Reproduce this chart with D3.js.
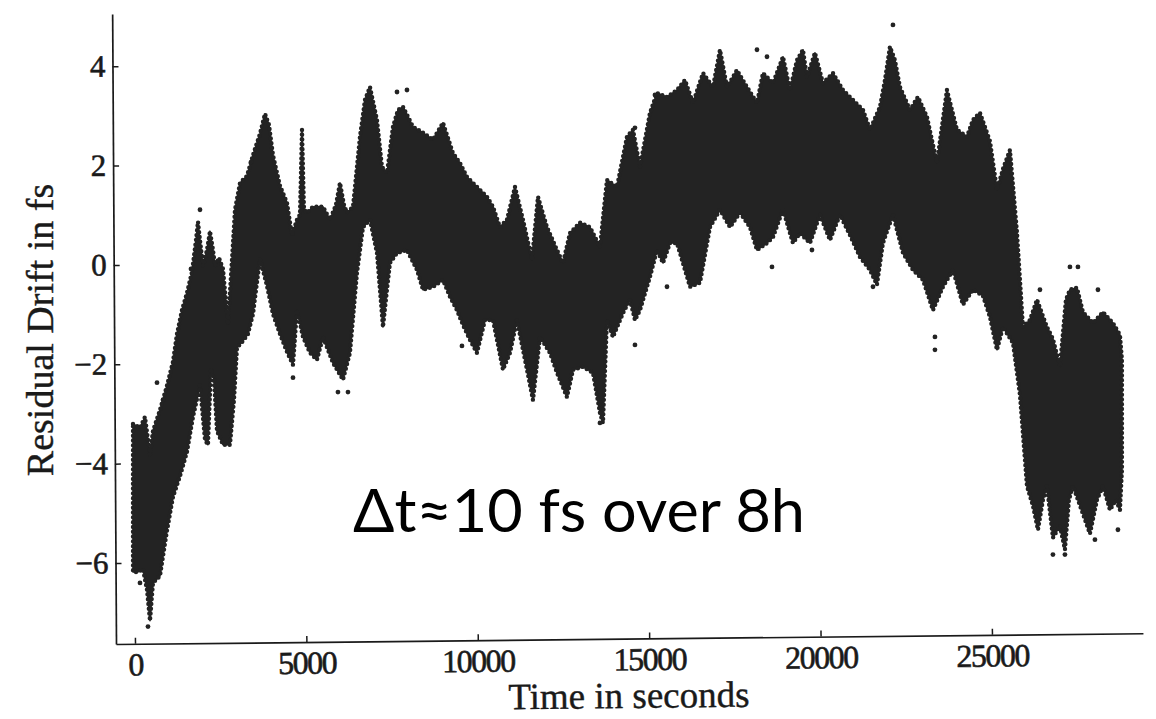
<!DOCTYPE html>
<html><head><meta charset="utf-8">
<script src="https://cdn.jsdelivr.net/npm/d3@7"></script>
<style>html,body{margin:0;padding:0;background:#fff;} svg{display:block;}</style>
</head><body>
<svg id="c" width="1156" height="719"></svg>
<script>
// ---- data (time in s, residual drift in fs) ----
const upperEnvelope = [
[-58,-3.20],[146,-3.28],[292,-3.06],[438,-3.82],[525,-3.34],[729,-2.92],[933,-2.43],[1108,-1.95],
[1225,-1.39],[1371,-0.91],[1517,-0.56],[1663,-0.14],[1779,0.50],[1838,0.87],[1896,0.50],[1984,-0.02],
[2100,0.30],[2188,0.68],[2275,0.30],[2334,-0.02],[2450,0.14],[2567,-0.08],[2713,-1.19],[2829,0.10],
[2917,1.11],[3063,1.65],[3267,1.79],[3442,2.21],[3646,2.64],[3792,3.04],[3909,2.82],[4025,2.21],
[4230,1.59],[4434,1.25],[4580,0.60],[4726,0.91],[4813,1.01],[4872,2.72],[4930,1.11],[5017,1.05],
[5192,1.17],[5484,1.17],[5688,0.91],[5863,1.21],[5980,1.65],[6096,1.21],[6184,1.05],[6359,1.17],
[6563,2.58],[6709,3.32],[6855,3.58],[7059,2.92],[7205,1.97],[7351,1.85],[7526,2.78],[7672,3.12],
[7818,3.18],[8109,2.78],[8401,2.66],[8693,2.52],[8984,2.86],[9276,2.25],[9480,2.05],[9684,1.77],
[9976,1.57],[10268,1.37],[10443,1.17],[10647,0.76],[10851,0.91],[11085,1.57],[11318,0.91],[11580,0.10],
[11756,1.37],[12018,0.76],[12310,0.30],[12485,0.04],[12689,0.64],[12981,0.85],[13272,0.76],[13564,0.36],
[13768,1.71],[14060,1.57],[14352,2.58],[14527,2.72],[14731,1.97],[15023,3.06],[15227,3.46],[15519,3.38],
[15810,3.52],[16044,3.72],[16277,3.26],[16569,3.86],[16861,3.58],[17065,4.33],[17269,3.58],[17560,3.92],
[17852,3.58],[18144,3.26],[18319,3.86],[18611,3.66],[18903,4.19],[19106,3.52],[19311,4.12],[19486,4.33],
[19602,3.78],[19836,4.27],[20069,3.66],[20361,3.86],[20652,3.52],[20944,3.32],[21236,3.12],[21440,2.72],
[21732,3.18],[21878,3.72],[22023,4.39],[22169,4.12],[22315,3.58],[22607,3.12],[22840,3.38],[23103,2.98],
[23394,2.05],[23686,3.52],[23978,2.72],[24270,2.58],[24445,2.92],[24649,3.06],[24941,2.49],[25145,1.51],
[25320,1.93],[25524,2.31],[25728,0.66],[25903,-1.25],[26107,-1.11],[26311,-0.70],[26603,-1.25],[26778,-1.49],
[26982,-2.05],[27157,-0.70],[27274,-0.50],[27478,-0.46],[27653,-0.95],[27945,-1.17],[28237,-0.95],[28528,-1.17],
[28733,-1.41],[28791,-1.91]
];
const lowerEnvelope = [
[-58,-6.18],[88,-6.18],[233,-6.12],[350,-6.54],[438,-7.16],[525,-6.40],[729,-6.26],[933,-5.35],
[1108,-4.67],[1313,-4.25],[1517,-3.76],[1692,-3.06],[1896,-2.43],[2042,-3.52],[2129,-3.62],[2217,-2.09],
[2304,-2.31],[2392,-3.34],[2567,-3.62],[2771,-3.62],[2888,-2.72],[2975,-1.67],[3150,-1.53],[3296,-1.39],
[3442,-0.99],[3646,0.12],[3850,-0.42],[4025,-0.99],[4230,-1.39],[4434,-1.75],[4609,-2.01],[4726,-0.91],
[4901,-1.45],[5105,-1.77],[5309,-1.91],[5484,-1.45],[5775,-1.97],[6067,-2.31],[6271,-1.77],[6476,-0.16],
[6651,0.76],[6855,0.91],[7059,0.24],[7234,-1.25],[7351,-0.50],[7438,0.04],[7643,0.24],[7934,0.30],
[8226,-0.10],[8401,-0.50],[8693,-0.44],[8984,-0.30],[9188,-0.64],[9392,-0.91],[9568,-1.21],[9772,-1.51],
[9976,-1.77],[10209,-1.11],[10443,-1.11],[10735,-2.11],[10939,-1.77],[11143,-1.11],[11435,-2.11],[11610,-2.72],
[11814,-1.45],[12106,-1.77],[12310,-2.17],[12602,-2.66],[12777,-2.11],[13068,-2.05],[13360,-2.17],[13564,-2.98],
[13652,-3.18],[13768,-1.11],[13943,-1.45],[14235,-0.97],[14440,-0.70],[14585,-1.11],[14731,-0.91],[15023,-0.24],
[15227,0.30],[15402,0.04],[15606,0.44],[15810,0.44],[16190,-0.44],[16481,-0.36],[16773,0.76],[17065,1.11],
[17356,0.76],[17648,1.05],[17940,0.76],[18144,0.30],[18436,0.44],[18611,0.56],[18903,1.11],[19194,0.44],
[19398,0.64],[19690,0.44],[19982,1.01],[20273,0.50],[20565,1.01],[20857,0.60],[21148,0.16],[21440,-0.10],
[21644,-0.40],[21819,0.44],[22111,1.01],[22403,0.24],[22694,-0.10],[22986,-0.30],[23278,-0.91],[23570,-0.44],
[23861,-0.10],[24153,-0.80],[24445,-0.50],[24736,-0.62],[24941,-1.05],[25145,-1.71],[25320,-1.25],[25612,-1.57],
[25816,-2.62],[26020,-4.45],[26195,-4.85],[26341,-5.33],[26486,-4.73],[26603,-4.45],[26778,-5.49],[26982,-5.25],
[27128,-5.73],[27245,-4.73],[27361,-4.45],[27653,-5.01],[27857,-5.41],[28062,-4.73],[28237,-4.45],[28441,-4.93],
[28616,-4.73],[28733,-4.93],[28791,-4.12]
];
const outlierPoints = [
[379,-7.28],[146,-6.40],[1896,1.11],[1634,-0.08],[3384,2.07],[7934,3.52],[7643,3.48],[22111,4.83],
[27274,-0.04],[27507,-0.04],[26399,-0.50],[28091,-0.50],[26778,-5.83],[27128,-5.83],[28674,-5.33],
[28003,-5.53],[23336,-1.45],[23336,-1.71],[4609,-2.27],[5921,-2.56],[6213,-2.56],[15519,-0.44],
[18582,-0.04],[9538,-1.63],[14585,-1.61],[13564,-3.18],[21528,-0.44],[642,-2.37],[817,-2.72],
[15169,3.42],[14585,2.76],[18144,4.33],[18436,4.19],[19748,0.30]
];
const xMajorTicks = [0, 5000, 10000, 15000, 20000, 25000];
const xMinorTicks = [1000,2000,3000,4000,6000,7000,8000,9000,11000,12000,13000,14000,16000,17000,18000,19000,21000,22000,23000,24000,26000,27000,28000,29000];
const yMajorTicks = [-6, -4, -2, 0, 2, 4];
const yMinorTicks = [-7.5,-7,-6.5,-5.5,-5,-4.5,-3.5,-3,-2.5,-1.5,-1,-0.5,0.5,1,1.5,2.5,3,3.5,4.5,5];
const xTitle = "Time in seconds";
const yTitle = "Residual Drift in fs";
const note = "Δt≈10 fs over 8h";

// ---- layout ----
const svg = d3.select("#c");
svg.append("rect").attr("width",1156).attr("height",719).attr("fill","#fff");
const x = d3.scaleLinear().domain([-554, 29405]).range([116, 1143]);
const y = d3.scaleLinear().domain([-7.63, 5.05]).range([644, 14]);
const ink = "#1a1a1a";
const dotInk = "#232323";
const serif = "'Liberation Serif', 'Times New Roman', serif";

// data band
const band = upperEnvelope.concat(lowerEnvelope.slice().reverse());
const line = d3.line().x(d => x(d[0])).y(d => y(d[1]));
svg.append("path")
  .attr("d", line(band) + "Z")
  .attr("fill", dotInk)
  .attr("stroke", dotInk)
  .attr("stroke-width", 1.5)
  .attr("stroke-linejoin", "round");
svg.append("path")
  .attr("d", line(band) + "Z")
  .attr("fill", "none")
  .attr("stroke", dotInk)
  .attr("stroke-width", 4.4)
  .attr("stroke-dasharray", "0 4.8")
  .attr("stroke-linecap", "round");
svg.append("g").selectAll("circle").data(outlierPoints).join("circle")
  .attr("cx", d => x(d[0])).attr("cy", d => y(d[1])).attr("r", 2.4).attr("fill", dotInk);

// x axis (slightly tilted like the scan)
const gx = svg.append("g").attr("transform", "translate(0,644) rotate(-0.6,116,0)");
gx.call(d3.axisBottom(x).tickValues(xMinorTicks).tickSize(-3).tickSizeOuter(0).tickFormat(""));
gx.call(d3.axisBottom(x).tickValues(xMajorTicks).tickSize(-6).tickSizeOuter(0).tickPadding(9).tickFormat(d3.format("d")));
gx.selectAll(".domain").attr("stroke", ink).attr("stroke-width", 1.7);
gx.selectAll(".tick line").attr("stroke", ink).attr("stroke-width", 1.5);
gx.selectAll(".tick text").attr("font-family", serif)
  .attr("font-size", 32).attr("fill", ink).attr("stroke", ink).attr("stroke-width", 0.6)
  .attr("letter-spacing", -1.5);
svg.append("text").attr("x", 629).attr("y", 708).attr("text-anchor", "middle")
  .attr("transform", "rotate(-0.6,629,700)")
  .attr("font-family", serif).attr("stroke", ink).attr("stroke-width", 0.4)
  .attr("font-size", 37).attr("fill", ink).text(xTitle);

// y axis (slightly tilted like the scan)
const gy = svg.append("g").attr("transform", "translate(116,0) rotate(-0.35,0,644)");
gy.call(d3.axisLeft(y).tickValues(yMinorTicks).tickSize(-3).tickSizeOuter(0).tickFormat(""));
gy.call(d3.axisLeft(y).tickValues(yMajorTicks).tickSize(-6).tickSizeOuter(0).tickPadding(7));
gy.selectAll(".domain").attr("stroke", ink).attr("stroke-width", 1.7);
gy.selectAll(".tick line").attr("stroke", ink).attr("stroke-width", 1.5);
gy.selectAll(".tick text").attr("font-family", serif)
  .attr("font-size", 31).attr("fill", ink).attr("stroke", ink).attr("stroke-width", 0.6);
svg.append("text").attr("transform", "translate(53,330) rotate(-90)").attr("text-anchor", "middle")
  .attr("font-family", serif).attr("stroke", ink).attr("stroke-width", 0.4)
  .attr("font-size", 38).attr("fill", ink).text(yTitle);

// annotation
svg.append("text").attr("x", 353).attr("y", 532)
  .attr("font-family", "Lato, 'Open Sans', sans-serif")
  .attr("font-size", 60).attr("fill", "#000")
  .attr("textLength", 452).attr("lengthAdjust", "spacingAndGlyphs")
  .text(note);
</script>
</body></html>
